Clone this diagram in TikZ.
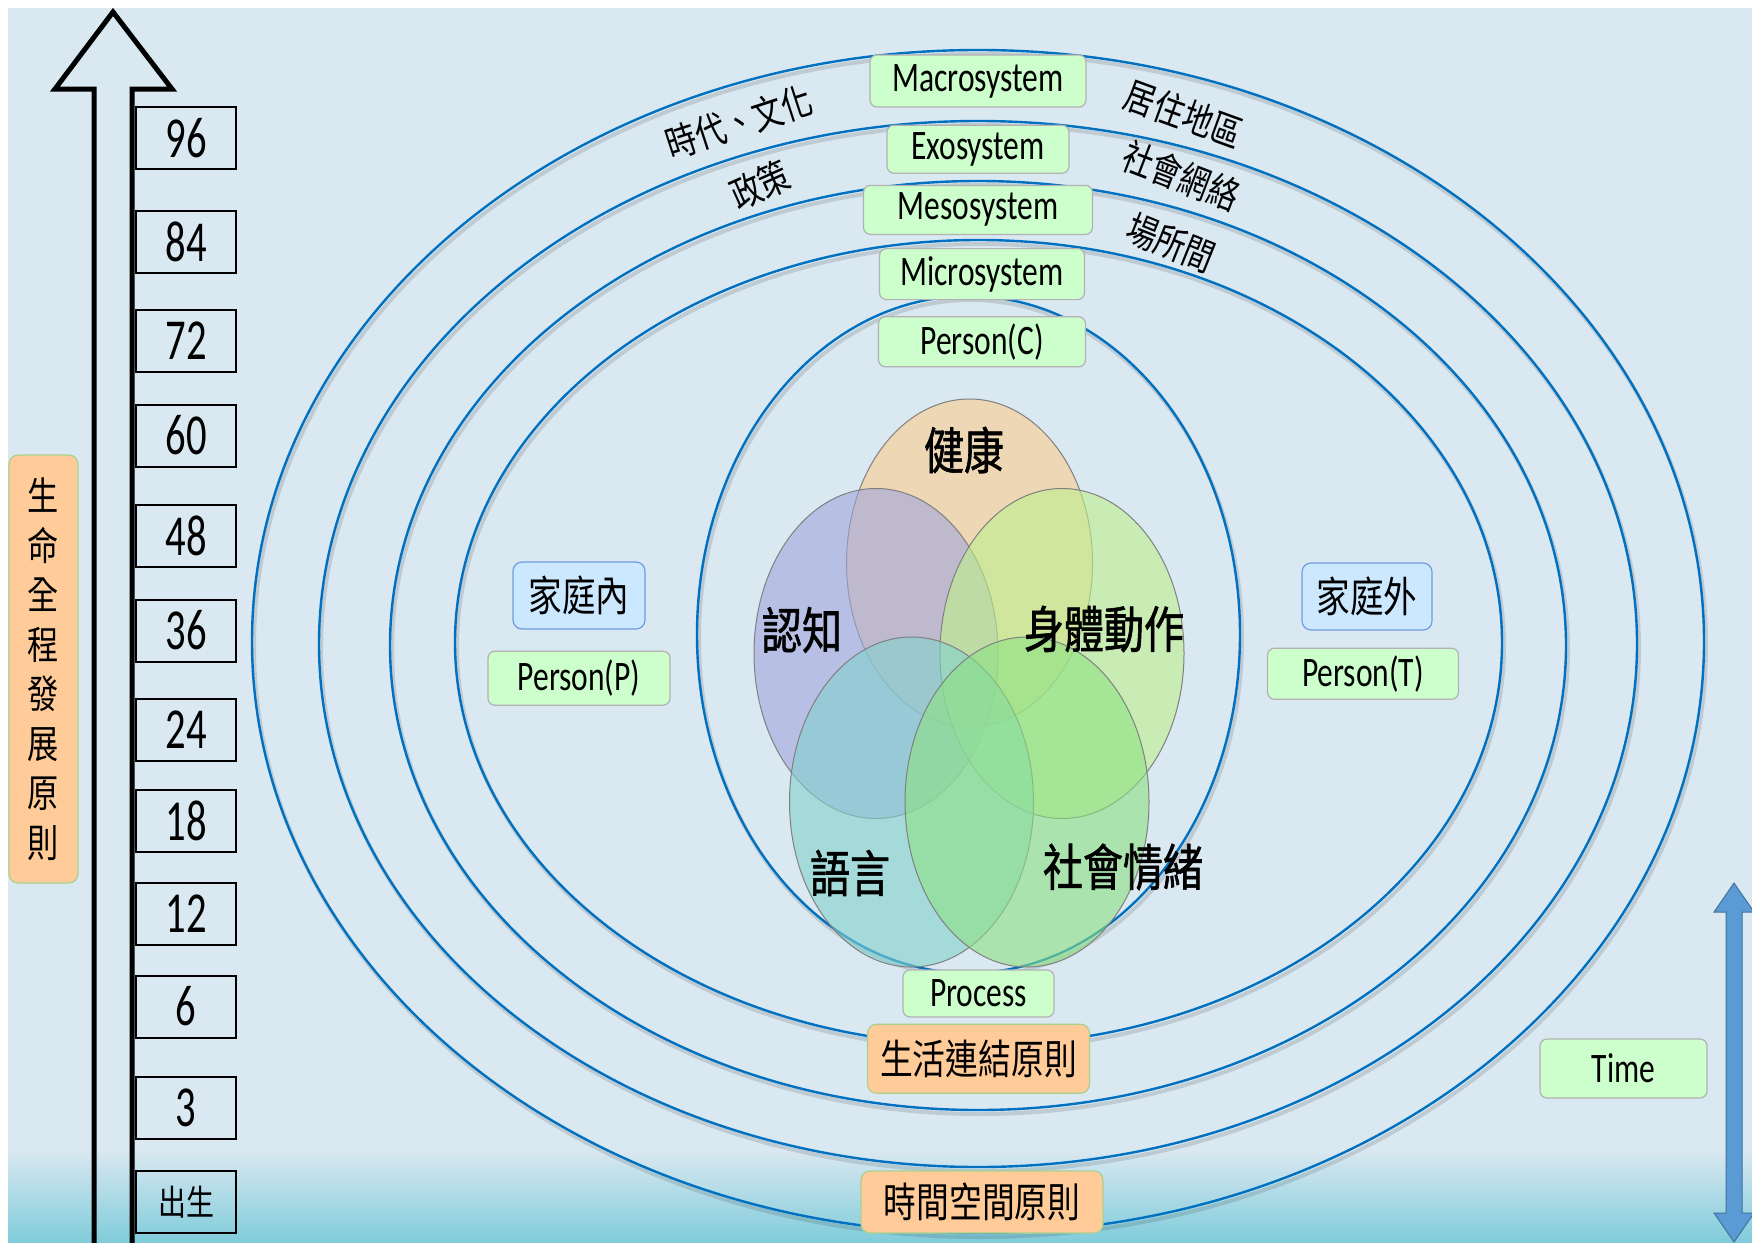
\documentclass[tikz,border=0pt]{standalone}
\usepackage{fontspec}
\setmainfont{Carlito}[FakeStretch=0.75]
\newfontfamily\cjk{Noto Sans CJK TC}[FakeStretch=0.8]
\newfontfamily\cjkheavy{Noto Sans CJK TC}[FakeStretch=0.8, FakeBold=1.2]
\newfontfamily\numfont{Carlito}[FakeStretch=0.7]
\usepackage{tikz}
\usetikzlibrary{positioning}

\definecolor{bgblue}{RGB}{218,232,241}
\definecolor{bgteal}{RGB}{128,204,218}
\definecolor{ringblue}{RGB}{0,112,192}
\definecolor{boxgreen}{RGB}{204,255,204}
\definecolor{boxorange}{RGB}{255,204,153}
\definecolor{boxblue}{RGB}{204,232,255}
\definecolor{edgeblue}{RGB}{111,155,224}
\definecolor{edgegreen}{RGB}{169,209,142}
\definecolor{arrowblue}{RGB}{91,155,213}
\definecolor{arrowedge}{RGB}{65,113,156}
\definecolor{healthc}{RGB}{250,205,140}
\definecolor{cognic}{RGB}{160,165,220}
\definecolor{motorc}{RGB}{190,240,140}
\definecolor{langc}{RGB}{130,210,205}
\definecolor{socialc}{RGB}{140,225,130}

\begin{document}
\begin{tikzpicture}[x=1pt, y=-1pt,
    sysbox/.style={draw=black!30, fill=boxgreen, rounded corners=7, inner sep=0, line width=1.2, font=\fontsize{42}{45}\selectfont},
    rulebox/.style={draw=edgegreen, fill=boxorange, rounded corners=9, inner sep=0, line width=1.2, font=\cjk\fontsize{41}{45}\selectfont},
    homebox/.style={draw=edgeblue, fill=boxblue, rounded corners=9, inner sep=0, line width=1.2, font=\cjk\fontsize{42}{45}\selectfont},
    agebox/.style={draw=black, line width=2, minimum width=100, minimum height=62, inner sep=0, font=\numfont\fontsize{58}{60}\selectfont},
    ring/.style={draw=ringblue, line width=2.4},
    ringshade/.style={draw=black, opacity=0.12, line width=4},
    ringtext/.style={inner sep=0, font=\cjk\fontsize{38}{42}\selectfont},
    venn/.style={draw=black!50, line width=1, fill opacity=0.6},
    venntext/.style={inner sep=0, font=\cjkheavy\fontsize{50}{54}\selectfont}]
    \useasboundingbox (0,0) rectangle (1752,1242);
    \fill[white] (0,0) rectangle (1752,1242);
    \fill[bgblue] (8,8) rectangle (1752,1242);
    \shade[top color=bgblue, bottom color=bgteal] (8,1150) rectangle (1752,1242);

    \foreach \cx/\cy/\rx/\ry in {978/641.5/726/591.5, 978/644/659/523, 978/645.5/588/464.5, 978.5/642.5/523.5/402.5, 968.5/634.5/271.5/338.5} {
        \draw[ringshade] (\cx+2,\cy+4) ellipse [x radius=\rx, y radius=\ry];
        \draw[ring] (\cx,\cy) ellipse [x radius=\rx, y radius=\ry];
    }

    \draw[venn, fill=healthc] (969.5,563) ellipse [x radius=123, y radius=164];
    \draw[venn, fill=cognic]  (876,653.5) ellipse [x radius=122, y radius=165];
    \draw[venn, fill=motorc]  (1062,653.5) ellipse [x radius=122, y radius=165];
    \draw[venn, fill=langc]   (911.5,802) ellipse [x radius=122, y radius=165];
    \draw[venn, fill=socialc] (1027,802) ellipse [x radius=122, y radius=165];

    \node[venntext] (health) at (964,450) {健康};
    \node[venntext] (cogni)  at (802,630) {認知};
    \node[venntext] (motor)  at (1104,629) {身體動作};
    \node[venntext] (lang)   at (850,873) {語言};
    \node[venntext] (social) at (1123,867) {社會情緒};

    \node[ringtext, rotate=18]  (era)     at (739,122) {時代、文化};
    \node[ringtext, rotate=24]  (policy)  at (760,185) {政策};
    \node[ringtext, rotate=-20] (region)  at (1184,114) {居住地區};
    \node[ringtext, rotate=-21] (network) at (1181,176) {社會網絡};
    \node[ringtext, rotate=-22] (between) at (1171,243) {場所間};

    \node[sysbox, minimum width=216, minimum height=52] (macro) at (978,81) {Macrosystem};
    \node[sysbox, minimum width=182, minimum height=48] (exo)   [below=17pt of macro] {Exosystem};
    \node[sysbox, minimum width=229, minimum height=49] (meso)  [below=11pt of exo] {Mesosystem};
    \node[sysbox, minimum width=205, minimum height=51] (micro) [below=13pt of meso, xshift=4pt] {Microsystem};
    \node[sysbox, minimum width=207, minimum height=50] (personC) [below=16pt of micro] {Person(C)};
    \node[sysbox, minimum width=151, minimum height=47] (process) at (978.5,993.5) {Process};
    \node[rulebox, minimum width=222, minimum height=69] (linkrule) [below=6pt of process] {生活連結原則};
    \node[rulebox, minimum width=242, minimum height=62] (timerule) at (982,1202) {時間空間原則};

    \node[homebox, minimum width=132, minimum height=67] (homeIn)  at (579,595.5) {家庭內};
    \node[sysbox, minimum width=182, minimum height=54]  (personP) [below=21pt of homeIn] {Person(P)};
    \node[homebox, minimum width=130, minimum height=67] (homeOut) at (1367,596.5) {家庭外};
    \node[sysbox, minimum width=191, minimum height=51]  (personT) [below=17pt of homeOut, xshift=-4pt] {Person(T)};
    \node[sysbox, minimum width=167, minimum height=59]  (time) at (1623.5,1068.5) {Time};

    \node[rulebox, minimum width=69, minimum height=428, align=center, font=\cjk\fontsize{39}{49.5}\selectfont] (lifespan) at (43.5,669) {生\\命\\全\\程\\發\\展\\原\\則};

    \draw[line width=5, line join=miter] (94,1260) -- (94,89) -- (55,89) -- (113,12) -- (172,89) -- (132,89) -- (132,1260);
    \foreach \val/\yy [count=\i] in {96/138, 84/241.5, 72/340.5, 60/435.5, 48/535.5, 36/630.5, 24/729.5, 18/821, 12/914, 6/1006.5, 3/1107.5}
        \node[agebox] (age\i) at (186,\yy) {\val};
    \node[agebox, font=\cjk\fontsize{35}{38}\selectfont] (birth) at (186,1202) {出生};

    \filldraw[fill=arrowblue, draw=arrowedge, line width=1] (1734,883) -- (1754,912) -- (1742,912) -- (1742,1213) -- (1754,1213) -- (1734,1242) -- (1714,1213) -- (1726,1213) -- (1726,912) -- (1714,912) -- cycle;
\end{tikzpicture}
\end{document}
